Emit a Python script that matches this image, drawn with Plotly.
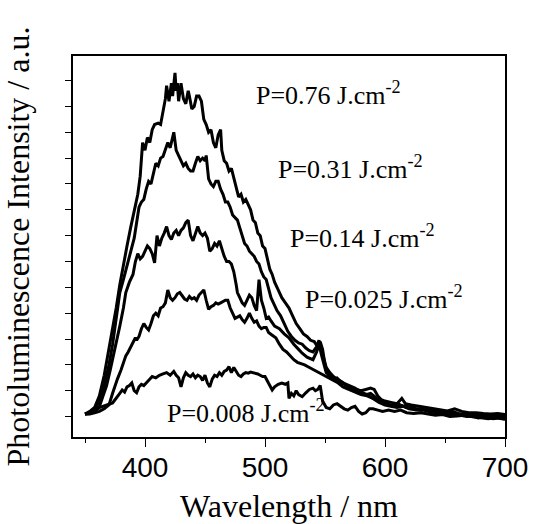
import plotly.graph_objects as go

# ---- data (wavelength in nm, intensity in arbitrary units = y-tick steps) ----
wl_076 = [350,354,358,362,366,370,373,376,379,382,385,388,391,394,396,397,398,400,402,404,406,408,411,413,415,417,418,420,422,423,425,426,427,428,430,432,434,436,437,439,441,443,445,447,449,451,453,455,457,459,461,463,464,466,468,470,472,474,476,478,480,482,484,486,488,490,492,494,496,498,500,502,504,506,508,511,514,517,520,523,526,529,532,535,538,541,544,546,548,550,553,556,560,564,568,572,576,580,584,588,591,594,597,600,605,610,614,617,622,628,634,640,646,652,658,664,670,676,682,688,694,700]
pl_076 = [0.1,0.2,0.35,0.8,1.6,2.6,3.3,4.2,5.1,5.9,6.6,7.3,7.9,8.6,9.3,10.2,10.6,10.3,10.8,10.6,11.1,11.3,11.35,11.3,11.8,12.3,12.8,12.2,12.9,12.4,13.3,12.6,12.9,12.2,12.9,12.3,12.1,12.6,12.4,11.9,12.0,12.4,12.4,12.2,11.5,11.3,11.0,11.1,10.6,10.4,10.9,11.1,10.3,9.9,9.8,9.5,9.6,9.2,8.9,8.5,8.6,8.3,8.4,8.2,8.0,7.6,7.5,7.1,7.0,6.6,6.5,6.1,5.7,5.5,5.2,4.9,4.6,4.4,4.2,3.9,3.6,3.4,3.2,3.1,2.95,2.9,2.7,2.9,2.6,2.0,1.6,1.45,1.5,1.3,1.2,1.1,1.05,1.0,1.05,1.1,1.05,0.8,0.65,0.6,0.55,0.5,0.7,0.5,0.45,0.4,0.35,0.3,0.25,0.22,0.3,0.2,0.15,0.15,0.12,0.1,0.12,0.08]

wl_031 = [350,354,358,362,366,370,373,376,379,382,385,388,391,393,395,397,399,401,403,405,407,409,411,413,415,417,419,421,423,424,426,428,430,432,434,436,438,440,442,444,446,448,450,451,453,455,457,459,461,463,465,467,469,471,473,475,477,479,481,483,485,487,489,491,493,495,497,499,501,503,505,507,510,513,516,519,522,525,528,531,534,537,540,543,545,547,549,551,554,557,560,564,568,572,576,580,584,588,592,596,600,605,610,615,620,626,632,638,644,650,656,662,668,674,680,686,692,700]
pl_031 = [0.1,0.15,0.3,0.6,1.2,2.0,2.8,3.9,4.8,5.3,5.8,6.3,6.9,7.5,8.1,8.3,8.4,8.8,9.1,9.0,9.4,9.8,9.7,10.0,10.06,10.3,10.6,10.4,10.8,11.0,10.3,10.1,9.9,9.7,9.8,9.6,9.5,9.5,9.8,10.06,9.9,10.0,9.9,10.1,9.2,9.0,8.9,9.1,9.1,8.8,8.6,8.3,8.3,8.1,7.8,7.7,7.6,7.3,7.0,6.7,6.6,6.4,6.3,6.2,6.0,5.9,5.6,5.4,5.3,4.9,4.6,4.4,4.1,3.9,3.6,3.3,3.1,2.95,2.85,2.8,2.65,2.55,2.5,2.7,2.95,2.6,2.2,1.9,1.7,1.55,1.45,1.35,1.2,1.1,1.0,0.9,0.85,0.9,0.75,0.6,0.5,0.45,0.5,0.4,0.42,0.3,0.3,0.22,0.2,0.15,0.2,0.1,0.08,0.05,0.05,0.0,0.02,-0.05]

wl_014 = [350,354,358,362,365,368,371,373,376,379,382,384,387,390,392,394,396,398,400,402,404,406,408,410,412,414,416,418,420,422,424,426,428,430,432,434,436,438,440,442,444,446,448,450,452,454,456,458,460,462,464,466,468,470,472,474,476,477,479,481,483,485,487,489,491,493,495,497,499,501,503,505,508,512,516,520,524,528,531,535,540,543,545,547,549,551,555,560,565,570,575,580,585,590,595,600,606,612,618,624,630,636,642,648,654,660,666,672,678,684,690,696,700]
pl_014 = [0.1,0.12,0.25,0.39,0.8,1.2,1.8,2.2,2.9,3.5,4.2,4.8,5.2,5.5,6.0,6.3,6.1,6.2,6.4,6.6,6.5,6.3,5.95,7.0,6.6,6.9,7.1,7.35,7.0,6.85,7.1,7.2,7.0,7.2,7.3,7.5,7.6,7.0,6.8,7.1,7.35,7.1,7.0,7.1,6.9,6.4,6.5,6.7,6.6,6.8,6.5,6.2,6.0,6.0,5.9,5.6,5.1,4.8,4.6,4.4,4.3,4.5,4.7,4.6,4.3,4.1,5.3,4.5,4.2,3.8,3.85,3.7,3.5,3.4,3.2,3.05,2.8,2.6,2.45,2.3,2.2,2.5,2.8,2.4,2.0,1.7,1.55,1.4,1.3,1.2,1.1,0.95,0.85,0.7,0.6,0.5,0.4,0.45,0.35,0.3,0.25,0.3,0.2,0.18,0.12,0.1,0.1,0.05,0.05,0.08,0.0,0.02,0.0]

wl_0025 = [350,354,358,362,366,370,373,375,377,380,382,384,386,388,390,392,393,395,397,399,401,403,405,407,409,411,413,415,417,419,421,423,425,427,429,431,433,435,437,439,441,443,445,447,449,451,453,455,457,459,461,463,465,467,469,471,473,475,477,479,481,483,485,487,489,491,493,495,497,499,501,503,506,509,512,515,518,521,524,527,530,533,537,541,545,549,553,557,561,565,570,575,580,585,590,595,600,605,610,615,620,626,632,638,644,650,656,662,668,674,680,686,692,700]
pl_0025 = [0.1,0.1,0.15,0.2,0.3,0.45,0.9,1.2,1.45,1.8,2.1,2.35,2.5,2.7,2.9,3.05,2.95,3.1,3.4,3.6,3.45,3.35,3.6,3.9,4.0,3.9,4.2,4.25,4.4,4.9,4.6,4.5,4.6,4.75,4.8,4.65,4.55,4.5,4.65,4.55,4.6,4.5,4.7,4.8,4.9,4.5,4.15,4.25,4.3,4.4,4.35,4.4,4.45,4.5,4.5,4.2,4.0,3.8,3.85,3.9,3.75,3.65,3.8,4.0,3.8,3.65,3.7,3.5,3.4,3.45,3.45,3.25,3.15,3.05,2.8,2.6,2.5,2.35,2.2,2.1,2.05,2.0,1.9,1.8,1.7,1.6,1.5,1.4,1.3,1.15,1.05,0.95,0.85,0.8,0.7,0.55,0.45,0.4,0.35,0.4,0.3,0.25,0.25,0.18,0.15,0.1,0.12,0.05,0.0,0.02,-0.05,-0.08,-0.05,-0.1]

wl_0008 = [350,354,358,362,365,368,371,373,375,377,379,381,383,385,387,389,391,393,395,397,399,401,403,406,409,412,415,418,421,424,426,428,430,432,434,436,438,440,442,444,446,448,450,452,454,456,458,460,462,464,466,468,470,472,474,476,478,480,482,484,486,488,490,492,494,496,498,500,502,504,506,508,511,514,517,519,520,522,524,526,528,531,534,537,540,542,544,546,548,551,554,557,560,563,566,569,572,575,578,581,584,587,590,594,598,603,608,613,618,624,630,636,642,648,654,660,666,672,678,684,690,696,700]
pl_0008 = [0.1,0.14,0.2,0.35,0.4,0.45,0.5,0.53,0.65,0.8,0.9,1.03,0.95,1.15,1.2,1.3,1.0,0.92,1.15,1.25,1.2,1.3,1.4,1.55,1.5,1.6,1.65,1.7,1.6,1.75,1.6,1.5,1.15,1.5,1.7,1.6,1.55,1.65,1.5,1.6,1.55,1.4,1.6,1.3,1.15,1.45,1.6,1.55,1.7,1.6,1.75,1.8,1.93,1.7,1.9,1.75,1.6,1.55,1.65,1.7,1.68,1.72,1.7,1.68,1.65,1.6,1.55,1.55,1.4,1.2,1.03,1.15,1.25,1.3,1.25,1.3,0.7,0.9,0.8,1.0,0.85,0.77,0.92,1.05,1.1,1.0,1.05,1.2,0.6,0.35,0.3,0.45,0.5,0.4,0.3,0.25,0.35,0.4,0.2,0.1,0.15,0.3,0.3,0.25,0.2,0.25,0.2,0.25,0.15,0.12,0.15,0.1,0.05,0.08,0.0,0.02,0.05,0.0,-0.05,0.0,-0.08,-0.05,-0.1]

series = [
    (wl_076, pl_076),
    (wl_031, pl_031),
    (wl_014, pl_014),
    (wl_0025, pl_0025),
    (wl_0008, pl_0008),
]

labels = ["P=0.76 J.cm<sup>-2</sup>", "P=0.31 J.cm<sup>-2</sup>", "P=0.14 J.cm<sup>-2</sup>",
          "P=0.025 J.cm<sup>-2</sup>", "P=0.008 J.cm<sup>-2</sup>"]
label_x = [491, 509, 519, 532, 417]
label_y = [12.5, 9.65, 6.95, 4.6, 0.18]

x_ticks = [400, 500, 600, 700]

fig = go.Figure()
for wl, pl in series:
    fig.add_trace(go.Scatter(x=wl, y=pl, mode="lines",
                             line=dict(color="black", width=3),
                             showlegend=False, hoverinfo="skip"))

for t, xx, yy in zip(labels, label_x, label_y):
    fig.add_annotation(x=xx, y=yy, xref="x", yref="y", text=t, showarrow=False,
                       xanchor="left", yanchor="middle",
                       font=dict(family="Liberation Serif", size=26, color="black"))

fig.update_layout(
    width=533, height=524,
    margin=dict(l=73, r=28, t=56, b=87),
    paper_bgcolor="white", plot_bgcolor="white",
    showlegend=False,
)
fig.update_xaxes(
    range=[340, 700], tickvals=x_ticks, ticktext=[str(v) for v in x_ticks],
    ticks="outside", ticklen=8, tickwidth=1.2, tickcolor="black",
    ticklabelstandoff=-3,
    minor=dict(tickvals=[350, 450, 550, 650], ticks="outside", ticklen=4, tickcolor="black", tickwidth=1.2),
    showline=True, linecolor="black", linewidth=1.5, mirror=True,
    showgrid=False, zeroline=False, automargin=False,
    tickfont=dict(family="Liberation Sans", size=28, color="black"),
    title=dict(text="Wavelength / nm", font=dict(family="Liberation Serif", size=32, color="black"), standoff=16),
)
fig.update_yaxes(
    range=[-0.79, 13.95], tick0=0, dtick=1, showticklabels=False,
    ticks="outside", ticklen=6, tickwidth=1.2, tickcolor="black",
    showline=True, linecolor="black", linewidth=1.5, mirror=True,
    showgrid=False, zeroline=False, automargin=False,
    title=dict(text="Photoluminescence Intensity / a.u.", font=dict(family="Liberation Serif", size=32, color="black"), standoff=27),
)

fig.write_html("out.html", config={"displayModeBar": False},
               post_script="document.body.style.margin='0';document.body.style.overflow='hidden';")
